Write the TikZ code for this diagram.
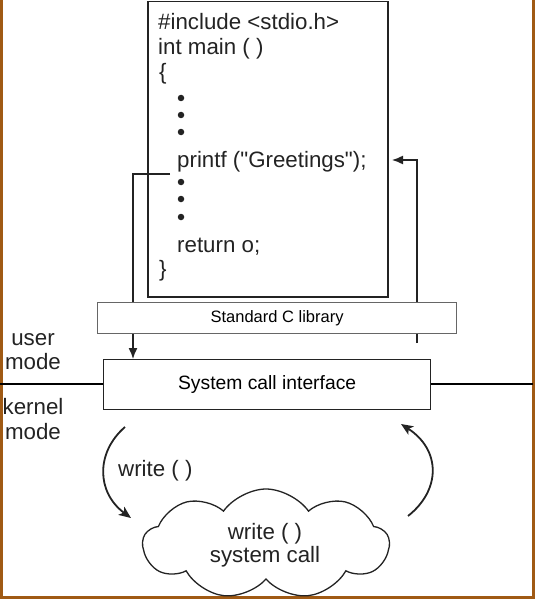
\documentclass[tikz,border=0pt]{standalone}
\usepackage{fontspec}
\setmainfont{Liberation Sans}
\newfontfamily\codefont{Liberation Sans}
\usetikzlibrary{arrows.meta,shapes.symbols}
\pgfdeclarelayer{bg}
\pgfsetlayers{bg,main}
\definecolor{frame}{RGB}{160,90,20}
\definecolor{ink}{RGB}{35,35,35}
\begin{document}
\begin{tikzpicture}[x=1pt,y=-1pt,
  txt/.style={font=\fontsize{22.3}{26}\selectfont, inner sep=0pt, anchor=base west, text=ink},
  ctxt/.style={font=\fontsize{22.3}{26}\selectfont, inner sep=0pt, anchor=base, text=ink},
  dotmark/.style={circle, fill=ink, inner sep=0pt, minimum size=6.5pt},
  box/.style={draw=ink, fill=white, inner sep=0pt},
  arr/.style={-{Latex[length=11pt,width=9pt]}, line width=1.4pt, draw=ink},
  curv/.style={-{Stealth[length=12pt,width=10pt,inset=3pt]}, line width=1.8pt, draw=ink}]
\useasboundingbox (0,0) rectangle (537,599);
% frame
\draw[frame, line width=3pt] (1.5,0) -- (1.5,597) -- (533,597) -- (533,0);
% code box
\node[draw=ink, line width=1.5pt, inner sep=0pt, minimum width=240pt, minimum height=295pt, anchor=north west] (code) at (147,1) {};
\node[txt] (l1) at (158,30) {\#include <stdio.h>};
\node[txt] (l2) at (158,55) {int main ( )};
\node[txt] (l3) at (159,80) {\{};
\node[dotmark] (d1) at (181,98) {};
\node[dotmark] (d2) at (181,115) {};
\node[dotmark] (d3) at (181,132) {};
\node[txt] (pf) at (177,167) {\codefont printf ("Greetings");};
\node[dotmark] (d4) at (181,182) {};
\node[dotmark] (d5) at (181,199) {};
\node[dotmark] (d6) at (181,217) {};
\node[txt] (ret) at (177,252) {return o;};
\node[txt] (l9) at (159,276) {\}};
% library and interface
\node[box, draw=black!60, line width=1.2pt, minimum width=359pt, minimum height=31pt, anchor=north west,
      font=\fontsize{16.5}{20}\selectfont] (lib) at (97,302) {Standard C library};
\node[box, line width=1.3pt, minimum width=327pt, minimum height=50pt, anchor=north west,
      font=\fontsize{19.3}{22}\selectfont] (sci) at (103,359) {System call interface};
% mode labels
\node[ctxt] (u1) at (33,345) {user};
\node[ctxt] (u2) at (33,369) {mode};
\node[ctxt] (k1) at (33,414) {kernel};
\node[ctxt] (k2) at (33,439) {mode};
\coordinate (sepL) at (0,384);
\coordinate (sepR) at (533,384);
\draw[black, line width=2pt] (sepL) -- (sepL -| sci.west);
\draw[black, line width=2pt] (sci.east |- sepR) -- (sepR);
% cloud
\node[cloud, draw=ink, fill=white, line width=1.3pt, cloud puffs=9, cloud puff arc=110, aspect=2.3,
      minimum width=246pt, minimum height=110pt, inner sep=0pt] (cl) at (266,544) {};
\node[ctxt] (c1) at (265,539) {write ( )};
\node[ctxt] (c2) at (265,562) {system call};
\node[txt] (wl) at (118,476) {write ( )};
% connectors
\coordinate (lx) at (133,160);
\coordinate (rs) at (417,343);
\coordinate (rt) at (392,160);
\begin{pgfonlayer}{bg}
\draw[arr] ([xshift=-7pt,yshift=-7pt]pf.base west) -| (lx |- sci.north);
\draw[arr] (rs) |- (rt);
\end{pgfonlayer}
\coordinate (a1s) at (125,427);
\coordinate (a1e) at (131,518);
\coordinate (a2s) at (408,516);
\coordinate (a2e) at (401,424);
\draw[curv] (a1s) .. controls (96,452) and (96,492) .. (a1e);
\draw[curv] (a2s) .. controls (441,490) and (441,450) .. (a2e);
\end{tikzpicture}
\end{document}
